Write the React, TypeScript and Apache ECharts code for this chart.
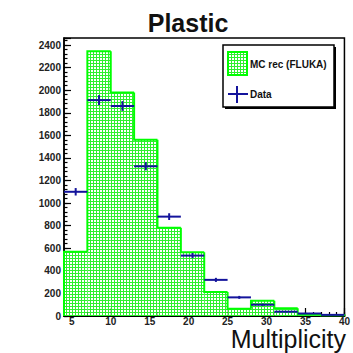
import React, { useEffect, useRef } from 'react';
import * as echarts from 'echarts';

// Histogram bin edges (Multiplicity)
const binEdges = [4, 7, 10, 13, 16, 19, 22, 25, 28, 31, 34, 37, 40];
// MC rec (FLUKA) counts per bin
const mcValues = [570, 2345, 1980, 1560, 782, 565, 212, 65, 135, 68, 15, 6];
// Data counts per bin and their statistical errors
const dataValues = [1100, 1912, 1860, 1326, 880, 535, 320, 165, 100, 38, 22, 10];
const dataErrors = [33, 44, 43, 36, 30, 23, 18, 13, 10, 6, 5, 3];
// Axis ranges / ticks
const xMin = 4;
const xMax = 40;
const yMax = 2462;
const yLabelStep = 200;

const FONT = 'Liberation Sans, Arial, sans-serif';
const GREEN = '#00ff00';
const BLUE = '#14149c';

export default function App() {
  const ref = useRef<HTMLDivElement>(null);
  useEffect(() => {
    const el = ref.current!;
    const chart = echarts.init(el, null, { renderer: 'svg' });

    const c = document.createElement('canvas');
    c.width = 3;
    c.height = 3;
    const ctx = c.getContext('2d')!;
    ctx.fillStyle = '#ffffff';
    ctx.fillRect(0, 0, 3, 3);
    ctx.fillStyle = '#2ef02e';
    ctx.fillRect(0, 0, 3, 1);
    ctx.fillRect(0, 0, 1, 3);
    const pattern: any = { image: c.toDataURL(), repeat: 'repeat', imageWidth: 3, imageHeight: 3 };

    const mcData = mcValues.map((v, i) => [binEdges[i], binEdges[i + 1], v, i > 0 ? mcValues[i - 1] : 0]);
    const dData = dataValues.map((v, i) => [binEdges[i], binEdges[i + 1], v, dataErrors[i]]);
    const lastIdx = mcValues.length - 1;

    const option: any = {
      animation: false,
      grid: {
        left: 64,
        right: 1,
        top: 38,
        bottom: 37,
        show: true,
        borderColor: '#000',
        borderWidth: 1.5,
        backgroundColor: '#fff',
      },
      xAxis: [
        {
          type: 'value',
          min: xMin,
          max: xMax,
          splitNumber: 7,
          position: 'bottom',
          axisLine: { show: true, onZero: false, lineStyle: { color: '#000', width: 2 } },
          axisTick: { show: true, inside: true, length: 8, lineStyle: { color: '#000', width: 1.2 } },
          axisLabel: {
            show: true,
            margin: 0,
            fontFamily: FONT,
            fontSize: 10,
            lineHeight: 10,
            fontWeight: 'bold',
            color: '#222',
            formatter: (v: number) => (v % 5 === 0 ? String(v) : ''),
          },
          splitLine: { show: false },
        },
        {
          type: 'value',
          min: xMin,
          max: xMax,
          interval: 1,
          position: 'bottom',
          axisLine: { show: false },
          axisTick: { show: true, inside: true, length: 4, lineStyle: { color: '#000', width: 1.2 } },
          axisLabel: { show: false },
          splitLine: { show: false },
        },
      ],
      yAxis: [
        {
          type: 'value',
          min: 0,
          max: yMax,
          interval: yLabelStep,
          position: 'left',
          axisLine: { show: true, onZero: false, lineStyle: { color: '#000', width: 1.5 } },
          axisTick: { show: true, inside: true, length: 7, lineStyle: { color: '#000', width: 1.2 } },
          axisLabel: {
            show: true,
            margin: 3,
            fontFamily: FONT,
            fontSize: 10,
            fontWeight: 'bold',
            color: '#222',
            formatter: (v: number) => (v % yLabelStep === 0 ? String(v) : ''),
          },
          splitLine: { show: false },
        },
        {
          type: 'value',
          min: 0,
          max: yMax,
          interval: 40,
          position: 'left',
          axisLine: { show: false },
          axisTick: { show: true, inside: true, length: 3.5, lineStyle: { color: '#000', width: 1.2 } },
          axisLabel: { show: false },
          splitLine: { show: false },
        },
      ],
      series: [
        {
          type: 'custom',
          name: 'MC rec (FLUKA)',
          xAxisIndex: 0,
          yAxisIndex: 0,
          data: mcData,
          encode: { x: [0, 1], y: [2] },
          renderItem: (params: any, api: any) => {
            const x0 = api.value(0);
            const x1 = api.value(1);
            const v = api.value(2);
            const pv = api.value(3);
            const pTop = api.coord([x0, v]);
            const pBase = api.coord([x1, 0]);
            const pPrev = api.coord([x0, pv]);
            const pts: number[][] = [pPrev, pTop, [pBase[0], pTop[1]]];
            if (params.dataIndex === lastIdx) pts.push(pBase);
            return {
              type: 'group',
              children: [
                {
                  type: 'rect',
                  shape: { x: pTop[0], y: pTop[1], width: pBase[0] - pTop[0], height: pBase[1] - pTop[1] },
                  style: { fill: pattern },
                },
                {
                  type: 'polyline',
                  shape: { points: pts },
                  style: { stroke: GREEN, lineWidth: 2, fill: null },
                },
              ],
            };
          },
        },
        {
          type: 'custom',
          name: 'Data',
          xAxisIndex: 0,
          yAxisIndex: 0,
          data: dData,
          encode: { x: [0, 1], y: [2] },
          renderItem: (params: any, api: any) => {
            const x0 = api.value(0);
            const x1 = api.value(1);
            const v = api.value(2);
            const e = api.value(3);
            const xc = (x0 + x1) / 2;
            const a = api.coord([x0, v]);
            const b = api.coord([x1, v]);
            const lo = api.coord([xc, v - e]);
            const hi = api.coord([xc, v + e]);
            return {
              type: 'group',
              children: [
                { type: 'line', shape: { x1: a[0], y1: a[1], x2: b[0], y2: b[1] }, style: { stroke: BLUE, lineWidth: 2 } },
                { type: 'line', shape: { x1: lo[0], y1: lo[1], x2: hi[0], y2: hi[1] }, style: { stroke: BLUE, lineWidth: 2 } },
              ],
            };
          },
        },
      ],
      graphic: [
        {
          type: 'text',
          x: 188,
          y: 22.5,
          style: {
            text: 'Plastic',
            fontFamily: FONT,
            fontSize: 25,
            fontWeight: 'bold',
            fill: '#111',
            textAlign: 'center',
            textVerticalAlign: 'middle',
          },
          z: 100,
        },
        {
          type: 'text',
          x: 346,
          y: 339,
          style: {
            text: 'Multiplicity',
            fontFamily: FONT,
            fontSize: 25,
            lineHeight: 18,
            fill: '#111',
            textAlign: 'right',
            textVerticalAlign: 'middle',
          },
          z: 100,
        },
        {
          type: 'group',
          z: 100,
          children: [
            { type: 'rect', shape: { x: 225, y: 47, width: 111, height: 62 }, style: { fill: '#000' } },
            { type: 'rect', shape: { x: 223, y: 45, width: 111, height: 62 }, style: { fill: '#fff', stroke: '#000', lineWidth: 1.5 } },
            { type: 'rect', shape: { x: 228, y: 52, width: 19, height: 23 }, style: { fill: pattern, stroke: GREEN, lineWidth: 2 } },
            {
              type: 'text',
              x: 250,
              y: 64,
              style: { text: 'MC rec (FLUKA)', fontFamily: FONT, fontSize: 10, fontWeight: 'bold', fill: '#111', textVerticalAlign: 'middle' },
            },
            { type: 'line', shape: { x1: 228, y1: 94, x2: 248, y2: 94 }, style: { stroke: BLUE, lineWidth: 2 } },
            { type: 'line', shape: { x1: 237, y1: 86, x2: 237, y2: 103 }, style: { stroke: BLUE, lineWidth: 2 } },
            {
              type: 'text',
              x: 250,
              y: 94,
              style: { text: 'Data', fontFamily: FONT, fontSize: 10, fontWeight: 'bold', fill: '#111', textVerticalAlign: 'middle' },
            },
          ],
        },
      ],
    };
    chart.setOption(option);
    return () => chart.dispose();
  }, []);
  return <div ref={ref} style={{ position: 'absolute', left: 0, top: 0, width: 353, height: 353, background: '#fff' }} />;
}
